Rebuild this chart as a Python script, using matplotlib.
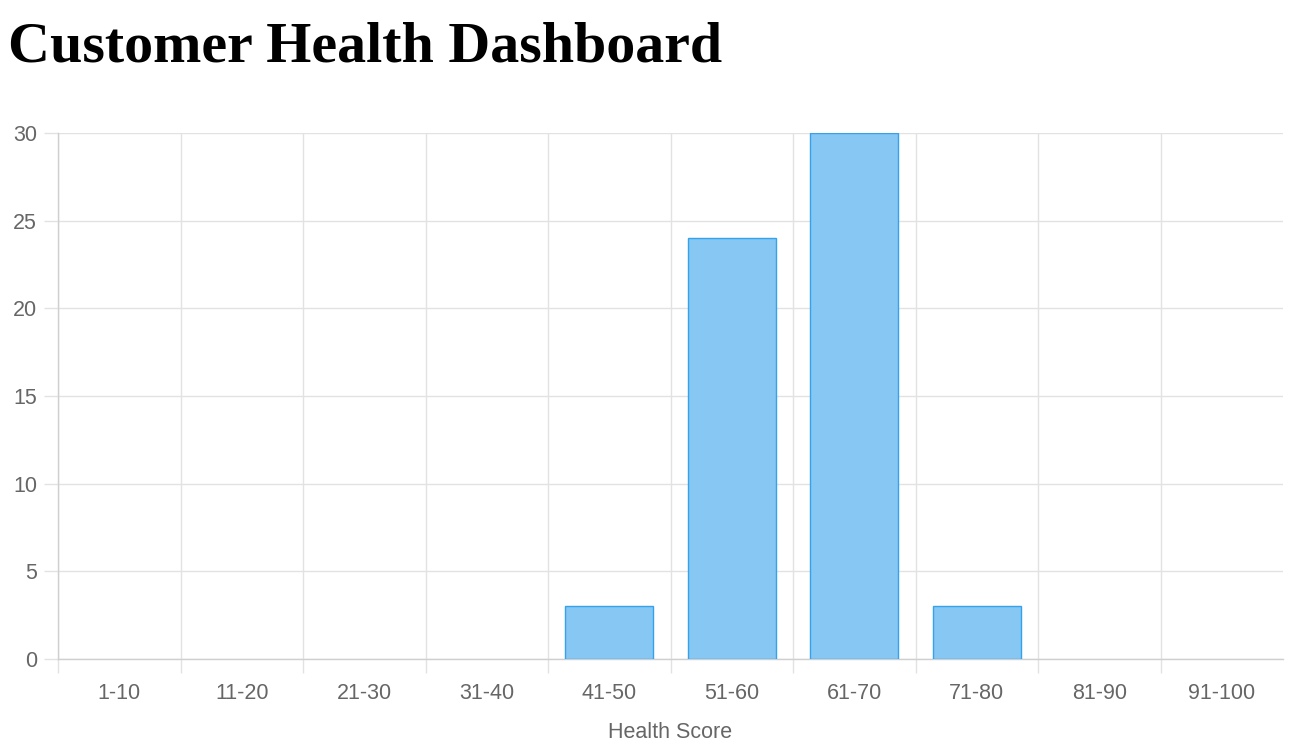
import matplotlib
matplotlib.use("Agg")
import matplotlib.pyplot as plt
import numpy as np

categories = ["1-10", "11-20", "21-30", "31-40", "41-50", "51-60", "61-70", "71-80", "81-90", "91-100"]
counts = [0, 0, 0, 0, 3, 24, 30, 3, 0, 0]
y_ticks = [0, 5, 10, 15, 20, 25, 30]
title = "Customer Health Dashboard"
x_label = "Health Score"

W, H = 1290, 754
fig = plt.figure(figsize=(W / 100, H / 100), dpi=100)
L, R, T, B = 58, 1283, 133, 659
ax = fig.add_axes([L / W, 1 - B / H, (R - L) / W, (B - T) / H])

x = np.arange(len(categories))
edge = ["#36a2eb" if c > 0 else "none" for c in counts]
ax.bar(x, counts, width=0.72, color="#86c7f3", edgecolor=edge, linewidth=1.0, zorder=3)

ax.set_xlim(-0.5, len(categories) - 0.5)
ax.set_ylim(0, 30)

grid_c = "#e2e2e2"
axis_c = "#cfcfcf"
fs = 15.5
ax.set_xticks(x)
ax.set_xticklabels(categories)
ax.set_xticks(np.arange(-0.5, len(categories) - 0.5, 1.0), minor=True)
ax.tick_params(axis="x", which="major", length=0, pad=17.5, labelsize=fs, labelcolor="#666666")
ax.tick_params(axis="x", which="minor", length=10, width=1, color=grid_c)
ax.grid(axis="x", which="minor", color=grid_c, linewidth=1, zorder=0)

ax.set_yticks(y_ticks)
ax.tick_params(axis="y", which="major", length=10, width=1, color=grid_c, pad=5,
               labelsize=fs, labelcolor="#666666")
ax.grid(axis="y", which="major", color=grid_c, linewidth=1, zorder=0)

for s in ["top", "right"]:
    ax.spines[s].set_visible(False)
for s in ["left", "bottom"]:
    ax.spines[s].set_color(axis_c)
    ax.spines[s].set_linewidth(1)
    ax.spines[s].set_zorder(2)

for lab in ax.get_xticklabels() + ax.get_yticklabels():
    lab.set_family(["Liberation Sans", "DejaVu Sans"])

fig.text((L + R) / 2 / W, 1 - 732 / H, x_label, ha="center", va="center",
         fontsize=fs, color="#666666", family=["Liberation Sans", "DejaVu Sans"])

fig.text(8 / W, 1 - 62 / H, title, ha="left", va="baseline", fontsize=41.8,
         fontweight="bold", color="black", family=["Liberation Serif", "DejaVu Serif"])

fig.savefig("out.png", dpi=100)
